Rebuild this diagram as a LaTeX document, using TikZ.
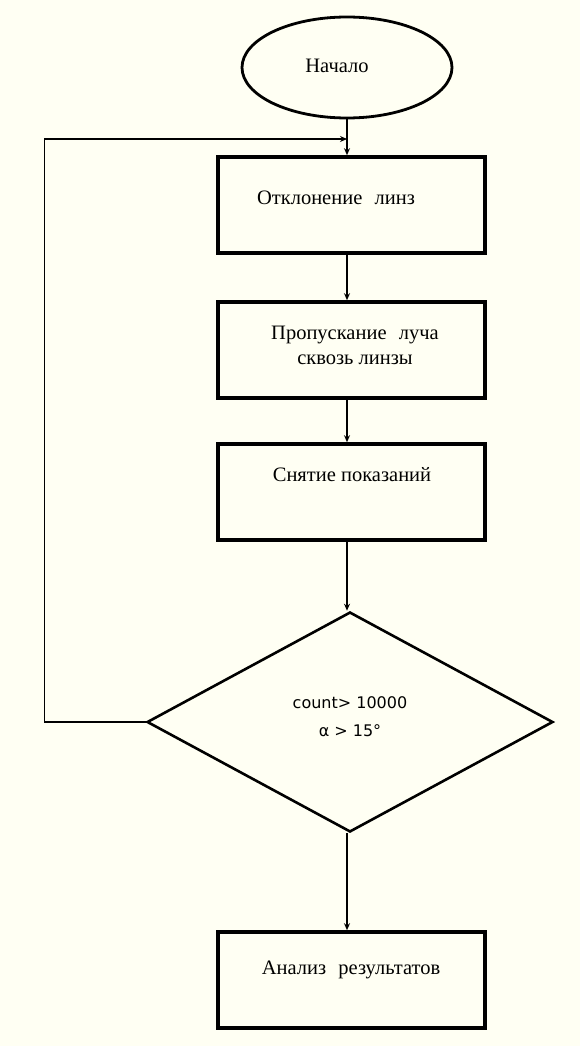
\documentclass[tikz,border=0pt]{standalone}
\usepackage{fontspec}
\setmainfont{Liberation Serif}
\newfontfamily\dvsans{DejaVu Sans}
\usetikzlibrary{shapes.geometric,arrows.meta}
\definecolor{bgcream}{RGB}{255,255,243}
\tikzset{
  boxnode/.style={draw=black, line width=3.6pt, minimum width=267pt, minimum height=96pt, inner sep=0pt},
  lbl/.style={font=\fontsize{20.5}{25}\selectfont, align=center, inner sep=0pt},
  conn/.style={draw=black, line width=1.5pt, -{Stealth[length=7pt,width=6pt]}},
}
\begin{document}
\begin{tikzpicture}[x=1pt,y=-1pt]
\fill[bgcream] (0,0) rectangle (580,1046);
\useasboundingbox (0,0) rectangle (580,1046);
% start ellipse
\node[draw=black, line width=2.8pt, ellipse, minimum width=210pt, minimum height=101pt, inner sep=0pt] (e) at (347,67.5) {};
\node[lbl] (te) at (337,66) {Начало};
% boxes
\node[boxnode] (b1) at (351.5,205) {};
\node[lbl] (t1) at (336,198) {Отклонение\hspace{0.6em}линз};
\node[boxnode] (b2) at (351.5,350) {};
\node[lbl] (t2) at (355,345) {Пропускание\hspace{0.6em}луча\\сквозь линзы};
\node[boxnode] (b3) at (351.5,492) {};
\node[lbl] (t3) at (352,475) {Снятие показаний};
\node[draw=black, line width=2.6pt, diamond, minimum width=406pt, minimum height=220pt, inner sep=0pt] (d) at (350,722) {};
\node[align=center, inner sep=0pt, font=\dvsans\fontsize{16}{28}\selectfont] (td) at (350,717) {count> 10000\\α > 15°};
\node[boxnode] (b4) at (351.5,980) {};
\node[lbl] (t4) at (351,970) {Анализ\hspace{0.6em}результатов};
% connectors
\coordinate (j) at (347,139);
\draw[conn] (e.south) -- (e.south |- b1.north);
\draw[conn] (e.south |- b1.south) -- (e.south |- b2.north);
\draw[conn] (e.south |- b2.south) -- (e.south |- b3.north);
\draw[conn] (e.south |- b3.south) -- (e.south |- d.north);
\draw[conn] (e.south |- d.south) -- (e.south |- b4.north);
\draw[conn] (d.west) -- ++(-101,0) |- (j);
\end{tikzpicture}
\end{document}
